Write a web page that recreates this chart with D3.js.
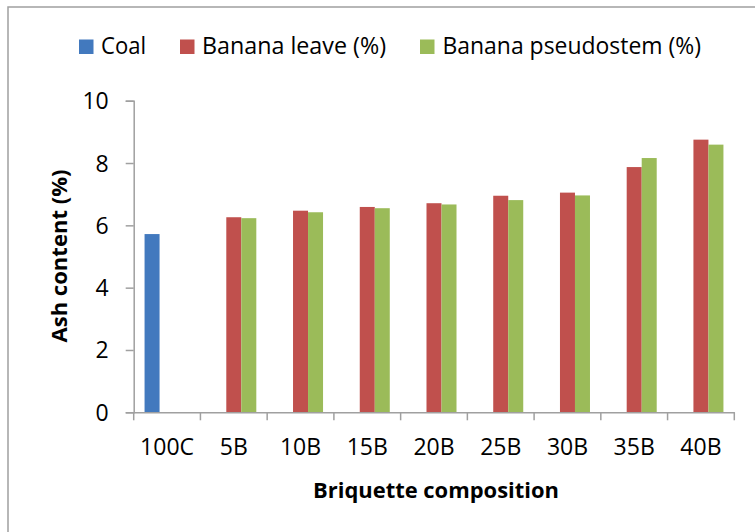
<!DOCTYPE html>
<html>
<head>
<meta charset="utf-8">
<script src="https://cdn.jsdelivr.net/npm/d3@7"></script>
<style>
  html, body { margin: 0; padding: 0; background: #fff; }
  svg { display: block; }
  text { font-family: "Open Sans", "Noto Sans", sans-serif; fill: #000; }
</style>
</head>
<body>
<svg id="chart" width="755" height="532"></svg>
<script>
const categories = ["100C", "5B", "10B", "15B", "20B", "25B", "30B", "35B", "40B"];
const seriesNames = ["Coal", "Banana leave (%)", "Banana pseudostem (%)"];
const coal       = [5.72, null, null, null, null, null, null, null, null];
const bananaLeaf = [null, 6.26, 6.47, 6.59, 6.71, 6.95, 7.05, 7.87, 8.75];
const bananaStem = [null, 6.23, 6.42, 6.55, 6.67, 6.81, 6.96, 8.16, 8.59];
const yTicks = [0, 2, 4, 6, 8, 10];
const colors = ["#4279BE", "#C0504D", "#9BBB59"];

const seriesValues = [coal, bananaLeaf, bananaStem];
const data = categories.map((c, i) => ({
  cat: c,
  vals: seriesNames.map((s, j) => ({ key: s, j: j, v: seriesValues[j][i] }))
}));

const svg = d3.select("#chart");

// Chart area border
svg.append("rect")
  .attr("x", 8).attr("y", 7)
  .attr("width", 800).attr("height", 600)
  .attr("fill", "none").attr("stroke", "#a0a0a0").attr("stroke-width", 1.5);

const plotL = 133.7, plotR = 734.3, plotT = 100.7, plotB = 412.3;

const x = d3.scaleBand().domain(categories).range([plotL, plotR]).padding(0);
const xs = d3.scaleBand().domain(seriesNames).range([0, x.bandwidth()])
  .paddingInner(0).paddingOuter(0.7235);
const y = d3.scaleLinear().domain([0, 10]).range([plotB, plotT]);

// Bars
const groups = svg.append("g").selectAll("g").data(data).join("g")
  .attr("transform", d => `translate(${x(d.cat)},0)`);
groups.selectAll("rect").data(d => d.vals.filter(v => v.v != null)).join("rect")
  .attr("x", d => xs(d.key))
  .attr("width", xs.bandwidth())
  .attr("y", d => y(d.v))
  .attr("height", d => y(0) - y(d.v))
  .attr("fill", d => colors[d.j]);

// Y axis
const yAxis = svg.append("g")
  .attr("transform", `translate(${plotL},0)`)
  .call(d3.axisLeft(y).tickValues(yTicks).tickSize(8).tickPadding(17).tickFormat(d3.format("d")));
yAxis.select(".domain").attr("stroke", "#a0a0a0").attr("stroke-width", 1.5);
yAxis.selectAll(".tick line").attr("stroke", "#a0a0a0").attr("stroke-width", 1.5);
yAxis.selectAll(".tick text")
  .attr("dy", "8px")
  .style("font-family", "'Open Sans', sans-serif")
  .style("font-size", "23px").attr("fill", "#000");

// X axis
const xAxis = svg.append("g")
  .attr("transform", `translate(0,${plotB})`)
  .call(d3.axisBottom(x).tickSize(0).tickPadding(0));
xAxis.select(".domain").attr("stroke", "#a0a0a0").attr("stroke-width", 1.5);
xAxis.selectAll(".tick text")
  .attr("y", 43).attr("dy", "0")
  .style("font-family", "'Open Sans', sans-serif")
  .style("font-size", "23px").attr("fill", "#000");
const boundaries = categories.map(c => x(c)).concat([x.range()[1]]);
xAxis.selectAll(".bound").data(boundaries).join("line")
  .attr("class", "bound")
  .attr("x1", d => d).attr("x2", d => d)
  .attr("y1", 0).attr("y2", 8)
  .attr("stroke", "#a0a0a0").attr("stroke-width", 1.5);

// Axis titles
svg.append("text")
  .attr("x", 436).attr("y", 498)
  .attr("text-anchor", "middle")
  .style("font-size", "22px").style("font-weight", "bold")
  .attr("textLength", 246).attr("lengthAdjust", "spacingAndGlyphs")
  .text("Briquette composition");

svg.append("text")
  .attr("transform", "translate(67,256) rotate(-90)")
  .attr("text-anchor", "middle")
  .style("font-size", "22px").style("font-weight", "bold")
  .attr("textLength", 173).attr("lengthAdjust", "spacingAndGlyphs")
  .text("Ash content (%)");

// Legend
const legendItems = [
  { name: seriesNames[0], sx: 79, tx: 101, w: 45 },
  { name: seriesNames[1], sx: 180, tx: 202, w: 184 },
  { name: seriesNames[2], sx: 420, tx: 442.5, w: 258.5 }
];
const lg = svg.append("g");
legendItems.forEach((it, i) => {
  lg.append("rect")
    .attr("x", it.sx).attr("y", 39.5).attr("width", 14.5).attr("height", 14.5)
    .attr("fill", colors[i]);
  lg.append("text")
    .attr("x", it.tx).attr("y", 54)
    .style("font-size", "24px")
    .attr("textLength", it.w).attr("lengthAdjust", "spacingAndGlyphs")
    .text(it.name);
});
</script>
</body>
</html>
